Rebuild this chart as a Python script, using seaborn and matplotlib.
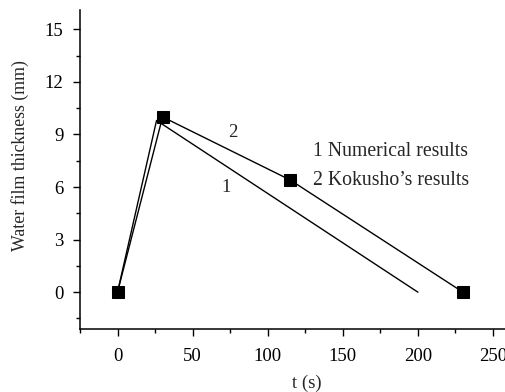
import matplotlib
matplotlib.use("Agg")
import matplotlib.pyplot as plt
import seaborn as sns
import pandas as pd
from matplotlib.ticker import MultipleLocator

# Data
num_t = [0, 26, 200]
num_h = [0, 9.8, 0]
kok_t = [0, 30, 115, 230]
kok_h = [0, 10, 6.4, 0]

sns.set_style("ticks")
plt.rcParams['font.family'] = ['Liberation Serif', 'DejaVu Serif']

fig = plt.figure(figsize=(5.06, 3.92), dpi=100)
ax = fig.add_axes([0.158, 0.1607, 1.0486 - 0.158, 0.9745 - 0.1607])

df_num = pd.DataFrame({"t": num_t, "h": num_h})
df_kok = pd.DataFrame({"t": kok_t, "h": kok_h})

sns.lineplot(data=df_num, x="t", y="h", ax=ax, color="black", linewidth=1.0,
             sort=False, estimator=None)
sns.lineplot(data=df_kok, x="t", y="h", ax=ax, color="black", linewidth=1.0,
             marker="s", markersize=8.5, markeredgecolor="black",
             markerfacecolor="black", sort=False, estimator=None)

ax.set_xlim(-25, 275)
ax.set_ylim(-2.1, 16.1)
ax.xaxis.set_major_locator(MultipleLocator(50))
ax.xaxis.set_minor_locator(MultipleLocator(25))
ax.set_yticks([0, 3, 6, 9, 12, 15])
ax.set_yticks([-1.5, 1.5, 4.5, 7.5, 10.5, 13.5], minor=True)

for s in ["top", "right"]:
    ax.spines[s].set_visible(False)
for s in ["left", "bottom"]:
    ax.spines[s].set_linewidth(1.1)
    ax.spines[s].set_color("black")

ax.tick_params(axis="both", which="major", direction="out", length=5, width=1.0,
               labelsize=13.5, colors="black", pad=7)
ax.tick_params(axis="x", which="major", pad=9)
ax.tick_params(axis="both", which="minor", direction="out", length=3, width=1.0,
               colors="black")

ax.set_xlabel("t (s)", fontsize=13.5)
ax.set_ylabel("Water film thickness (mm)", fontsize=12.8)
ax.xaxis.set_label_coords(0.504, -0.169, transform=ax.transAxes)
ax.xaxis.label.set_va("center")
ax.yaxis.set_label_coords(-0.133, 0.545, transform=ax.transAxes)
ax.yaxis.label.set_va("center")

ax.text(77, 9.1, "2", fontsize=13.5, ha="center", va="center")
ax.text(72, 6.0, "1", fontsize=13.5, ha="center", va="center")
ax.text(130, 8.0, "1 Numerical results", fontsize=14.2, ha="left", va="center")
ax.text(130, 6.4, "2 Kokusho\u2019s results", fontsize=14.2, ha="left", va="center")

fig.savefig("out.png", dpi=100)
